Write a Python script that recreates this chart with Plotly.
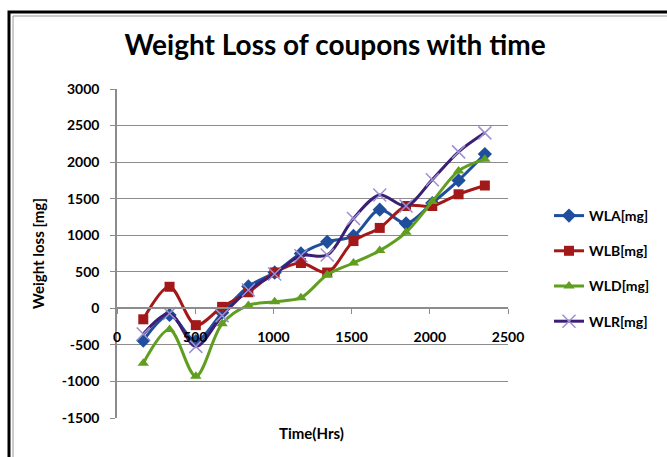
import plotly.graph_objects as go

time_hrs = [168, 336, 504, 672, 840, 1008, 1176, 1344, 1512, 1680, 1848, 2016, 2184, 2352]
wla = [-440, -90, -450, -60, 300, 490, 750, 910, 990, 1350, 1160, 1440, 1750, 2110]
wlb = [-150, 295, -230, 20, 220, 490, 620, 490, 920, 1100, 1400, 1400, 1560, 1680]
wld = [-750, -290, -930, -210, 40, 90, 145, 460, 620, 790, 1040, 1460, 1880, 2040]
wlr = [-350, -70, -520, -100, 250, 470, 720, 730, 1230, 1550, 1400, 1760, 2140, 2400]

series_names = ["WLA[mg]", "WLB[mg]", "WLD[mg]", "WLR[mg]"]
series_vals = [wla, wlb, wld, wlr]
colors = ["#1f4e9c", "#a31919", "#5f9e1e", "#3b1f74"]
symbols = ["diamond", "square", "triangle-up", "x-thin"]

y_ticks = [-1500, -1000, -500, 0, 500, 1000, 1500, 2000, 2500, 3000]
x_ticks = [0, 500, 1000, 1500, 2000, 2500]

FONT = "Lato"

fig = go.Figure()
for i, (name, vals, col, sym) in enumerate(zip(series_names, series_vals, colors, symbols)):
    if sym == "x-thin":
        marker = dict(symbol=sym, size=13, color="#9d8fd0",
                      line=dict(color="#9d8fd0", width=1.5))
    else:
        marker = dict(symbol=sym, size=10 if sym != "diamond" else 11, color=col,
                      line=dict(width=0))
    fig.add_trace(go.Scatter(
        x=time_hrs, y=vals, name=name, mode="lines+markers",
        line=dict(color=col, width=3, shape="spline", smoothing=0.9),
        marker=marker, legendgroup=name,
    ))

L, R, T, B = 117, 159, 89, 39
pw = 667 - L - R
ph = 457 - T - B

def px_x(p):
    return (p - L) / pw

def px_y(p):
    return (457 - B - p) / ph

fig.update_layout(
    width=667, height=457,
    margin=dict(l=L, r=R, t=T, b=B, autoexpand=False),
    paper_bgcolor="white", plot_bgcolor="white",
    font=dict(family=FONT, color="black"),
    title=dict(text="<b>Weight Loss of coupons with time</b>",
               x=px_x(335), xanchor="center", xref="paper",
               y=1 - 45 / 457, yanchor="middle",
               font=dict(size=28, family=FONT, color="black")),
    showlegend=True,
    legend=dict(x=px_x(549), xanchor="left", y=px_y(200), yanchor="top",
                font=dict(size=14, family=FONT, color="black", weight="bold"),
                tracegroupgap=14, bgcolor="rgba(0,0,0,0)", itemwidth=30),
    xaxis=dict(range=[0, 2500], tickvals=x_ticks, ticktext=[str(v) for v in x_ticks],
               showgrid=False, zeroline=False, showline=True,
               linecolor="#8c8c8c", linewidth=1.5,
               ticks="outside", ticklen=5, tickcolor="#8c8c8c",
               tickfont=dict(size=14, family=FONT, color="black", weight="bold"),
               ticklabelstandoff=11,
               anchor="free", position=1 / 3),
    yaxis=dict(range=[-1500, 3000], tickvals=y_ticks, ticktext=[str(v) for v in y_ticks],
               showgrid=True, gridcolor="#8c8c8c", gridwidth=1,
               zeroline=False, showline=True, linecolor="#8c8c8c", linewidth=1.5,
               ticks="outside", ticklen=5, tickcolor="#8c8c8c",
               tickfont=dict(size=14, family=FONT, color="black", weight="bold"),
               ticklabelstandoff=8,
               title=dict(text="<b>Weight loss [mg]</b>", standoff=13,
                          font=dict(size=15, family=FONT, color="black"))),
)

fig.add_annotation(text="<b>Time(Hrs)</b>", xref="paper", yref="paper",
                   x=px_x(311), y=px_y(433), xanchor="center", yanchor="middle",
                   showarrow=False,
                   font=dict(size=15, family=FONT, color="black"))

# chart area frame
fig.add_shape(type="rect", xref="paper", yref="paper",
              x0=px_x(9), x1=px_x(690), y0=px_y(480), y1=px_y(12),
              line=dict(color="black", width=3), layer="above")
fig.add_shape(type="rect", xref="paper", yref="paper",
              x0=px_x(13), x1=px_x(690), y0=px_y(480), y1=px_y(16),
              line=dict(color="#9a9a9a", width=1), layer="above")

fig.write_html("out.html", config={"displayModeBar": False},
               post_script="document.body.style.margin='0';")
